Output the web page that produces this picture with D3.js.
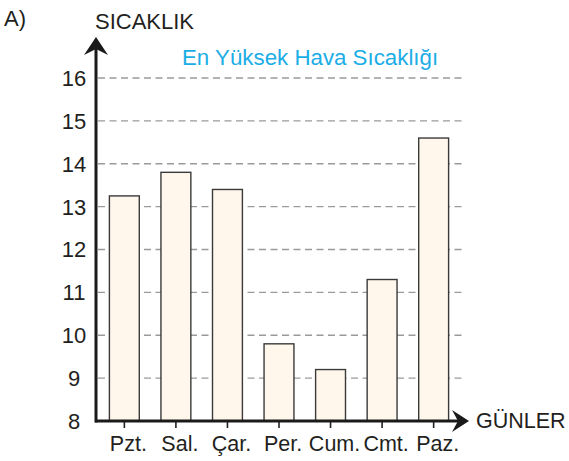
<!DOCTYPE html>
<html>
<head>
<meta charset="utf-8">
<script src="https://cdn.jsdelivr.net/npm/d3@7"></script>
<style>
  html, body { margin: 0; padding: 0; background: #fff; }
  svg { display: block; }
  text { font-family: "Liberation Sans", Arial, sans-serif; fill: #231f20; }
</style>
</head>
<body>
<svg id="chart" width="569" height="461"></svg>
<script>
// Daily maximum temperatures for the week
const days = ["Pzt.", "Sal.", "Çar.", "Per.", "Cum.", "Cmt.", "Paz."];
const temps = [13.25, 13.8, 13.4, 9.8, 9.2, 11.3, 14.6];
const yTicks = [8, 9, 10, 11, 12, 13, 14, 15, 16];

const title = "En Yüksek Hava Sıcaklığı";
const yLabel = "SICAKLIK";
const xLabel = "GÜNLER";
const panel = "A)";

const svg = d3.select("#chart");

const x = d3.scaleBand()
  .domain(days)
  .range([96, 462])
  .paddingInner(0.42)
  .paddingOuter(0.26);

const y = d3.scaleLinear()
  .domain([8, 16])
  .range([421, 78]);

// dashed horizontal grid
svg.append("g")
  .selectAll("line")
  .data(yTicks.filter(t => t > 8))
  .join("line")
  .attr("x1", 98)
  .attr("x2", 464)
  .attr("y1", d => y(d))
  .attr("y2", d => y(d))
  .attr("stroke", "#9a9a9a")
  .attr("stroke-width", 1.4)
  .attr("stroke-dasharray", "7,4.5");

// bars
svg.append("g")
  .selectAll("rect")
  .data(days)
  .join("rect")
  .attr("x", d => x(d))
  .attr("width", x.bandwidth())
  .attr("y", (d, i) => y(temps[i]))
  .attr("height", (d, i) => y(8) - y(temps[i]))
  .attr("fill", "#fff7eb")
  .attr("stroke", "#3a3a3a")
  .attr("stroke-width", 1.4);

// y tick labels
svg.append("g")
  .selectAll("text")
  .data(yTicks)
  .join("text")
  .attr("x", 74)
  .attr("y", d => y(d))
  .attr("dy", "0.36em")
  .attr("text-anchor", "middle")
  .attr("font-size", 22)
  .text(d => d);

// x axis with ticks below the baseline
const xAxis = d3.axisBottom(x).tickSize(7).tickSizeOuter(0).tickPadding(8);
const gx = svg.append("g")
  .attr("transform", `translate(0,${y(8)})`)
  .call(xAxis);
gx.select(".domain").remove();
gx.selectAll(".tick line").attr("stroke", "#231f20").attr("stroke-width", 1.6);
gx.selectAll(".tick text")
  .attr("font-size", 21.5)
  .attr("font-family", "Liberation Sans, Arial, sans-serif")
  .attr("fill", "#231f20")
  .attr("dx", 4)
  .attr("dy", "0.72em");

// axis lines with arrowheads
const axisColor = "#1a1a1a";
svg.append("line")
  .attr("x1", 96).attr("x2", 96)
  .attr("y1", y(8) + 1.5).attr("y2", 48)
  .attr("stroke", axisColor).attr("stroke-width", 3);
svg.append("line")
  .attr("x1", 95).attr("x2", 460)
  .attr("y1", y(8)).attr("y2", y(8))
  .attr("stroke", axisColor).attr("stroke-width", 3);

svg.append("path")
  .attr("d", "M96,37 L108,55 L96,49 L84,55 Z")
  .attr("fill", axisColor);
svg.append("path")
  .attr("d", `M469,${y(8)} L452,${y(8) - 11} L458,${y(8)} L452,${y(8) + 11} Z`)
  .attr("fill", axisColor);

// labels
svg.append("text")
  .attr("x", 4).attr("y", 26)
  .attr("font-size", 22)
  .text(panel);
svg.append("text")
  .attr("x", 95).attr("y", 29)
  .attr("font-size", 22)
  .text(yLabel);
svg.append("text")
  .attr("x", 476).attr("y", 428)
  .attr("font-size", 21.5)
  .text(xLabel);
svg.append("text")
  .attr("x", 182).attr("y", 65)
  .attr("font-size", 22.3)
  .style("fill", "#1bade6")
  .text(title);
</script>
</body>
</html>
